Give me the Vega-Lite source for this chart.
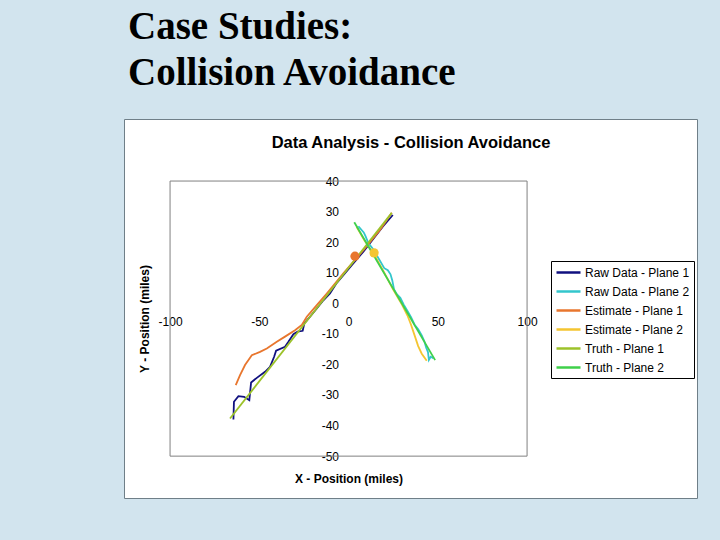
{
  "$schema": "https://vega.github.io/schema/vega-lite/v6.json",
  "width": 573,
  "height": 379,
  "autosize": {"type": "none"},
  "padding": {"left": 124, "top": 119, "right": 23, "bottom": 42},
  "background": "#d2e4ee",
  "title": {
    "text": ["Case Studies:", "Collision Avoidance"],
    "anchor": "start",
    "frame": "group",
    "font": "Liberation Serif",
    "fontSize": 39,
    "fontWeight": "bold",
    "color": "black",
    "lineHeight": 46,
    "dx": 4,
    "offset": 26
  },
  "config": {
    "view": {"fill": "white", "stroke": "#6f7f88", "strokeWidth": 1},
    "axis": {"labelFont": "Liberation Sans", "titleFont": "Liberation Sans", "labelColor": "black", "titleColor": "black", "grid": false, "domain": false, "ticks": false, "tickSize": 0},
    "legend": {"labelFont": "Liberation Sans", "labelFontSize": 12, "labelColor": "black"}
  },
  "datasets": {
    "tracks": [
      {"series": "Raw Data - Plane 1", "x": -64.5, "y": -38.0},
      {"series": "Raw Data - Plane 1", "x": -64.2, "y": -32.2},
      {"series": "Raw Data - Plane 1", "x": -61.7, "y": -30.4},
      {"series": "Raw Data - Plane 1", "x": -58.5, "y": -30.6},
      {"series": "Raw Data - Plane 1", "x": -55.6, "y": -31.7},
      {"series": "Raw Data - Plane 1", "x": -54.6, "y": -25.9},
      {"series": "Raw Data - Plane 1", "x": -51.4, "y": -24.4},
      {"series": "Raw Data - Plane 1", "x": -46.8, "y": -22.4},
      {"series": "Raw Data - Plane 1", "x": -44.0, "y": -20.8},
      {"series": "Raw Data - Plane 1", "x": -41.7, "y": -17.5},
      {"series": "Raw Data - Plane 1", "x": -40.6, "y": -15.5},
      {"series": "Raw Data - Plane 1", "x": -35.6, "y": -14.2},
      {"series": "Raw Data - Plane 1", "x": -33.7, "y": -12.6},
      {"series": "Raw Data - Plane 1", "x": -30.9, "y": -10.1},
      {"series": "Raw Data - Plane 1", "x": -28.5, "y": -9.3},
      {"series": "Raw Data - Plane 1", "x": -25.7, "y": -9.0},
      {"series": "Raw Data - Plane 1", "x": -24.8, "y": -6.6},
      {"series": "Raw Data - Plane 1", "x": -21.6, "y": -4.4},
      {"series": "Raw Data - Plane 1", "x": -17.8, "y": -1.7},
      {"series": "Raw Data - Plane 1", "x": -14.1, "y": 1.0},
      {"series": "Raw Data - Plane 1", "x": -10.4, "y": 3.2},
      {"series": "Raw Data - Plane 1", "x": -6.6, "y": 6.7},
      {"series": "Raw Data - Plane 1", "x": -2.9, "y": 9.2},
      {"series": "Raw Data - Plane 1", "x": 1.8, "y": 12.5},
      {"series": "Raw Data - Plane 1", "x": 8.3, "y": 16.9},
      {"series": "Raw Data - Plane 1", "x": 14.8, "y": 21.8},
      {"series": "Raw Data - Plane 1", "x": 19.5, "y": 25.3},
      {"series": "Raw Data - Plane 1", "x": 24.8, "y": 28.9},
      {"series": "Raw Data - Plane 2", "x": 5.5, "y": 25.2},
      {"series": "Raw Data - Plane 2", "x": 8.5, "y": 23.2},
      {"series": "Raw Data - Plane 2", "x": 9.5, "y": 22.0},
      {"series": "Raw Data - Plane 2", "x": 11.0, "y": 19.8},
      {"series": "Raw Data - Plane 2", "x": 14.0, "y": 17.5},
      {"series": "Raw Data - Plane 2", "x": 17.0, "y": 14.5},
      {"series": "Raw Data - Plane 2", "x": 20.0, "y": 11.5},
      {"series": "Raw Data - Plane 2", "x": 22.0, "y": 10.8},
      {"series": "Raw Data - Plane 2", "x": 23.5, "y": 9.5},
      {"series": "Raw Data - Plane 2", "x": 24.5, "y": 7.5},
      {"series": "Raw Data - Plane 2", "x": 25.5, "y": 4.5},
      {"series": "Raw Data - Plane 2", "x": 27.0, "y": 3.0},
      {"series": "Raw Data - Plane 2", "x": 29.0, "y": 1.8},
      {"series": "Raw Data - Plane 2", "x": 31.0, "y": -0.5},
      {"series": "Raw Data - Plane 2", "x": 33.0, "y": -2.5},
      {"series": "Raw Data - Plane 2", "x": 35.0, "y": -4.5},
      {"series": "Raw Data - Plane 2", "x": 37.0, "y": -7.0},
      {"series": "Raw Data - Plane 2", "x": 39.0, "y": -8.5},
      {"series": "Raw Data - Plane 2", "x": 41.0, "y": -10.5},
      {"series": "Raw Data - Plane 2", "x": 42.5, "y": -12.5},
      {"series": "Raw Data - Plane 2", "x": 43.5, "y": -14.5},
      {"series": "Raw Data - Plane 2", "x": 44.5, "y": -16.0},
      {"series": "Raw Data - Plane 2", "x": 45.0, "y": -18.5},
      {"series": "Raw Data - Plane 2", "x": 46.0, "y": -17.5},
      {"series": "Raw Data - Plane 2", "x": 47.5, "y": -18.0},
      {"series": "Estimate - Plane 1", "x": -63.2, "y": -26.8},
      {"series": "Estimate - Plane 1", "x": -60.8, "y": -23.5},
      {"series": "Estimate - Plane 1", "x": -58.0, "y": -20.2},
      {"series": "Estimate - Plane 1", "x": -54.2, "y": -17.0},
      {"series": "Estimate - Plane 1", "x": -49.6, "y": -15.9},
      {"series": "Estimate - Plane 1", "x": -45.8, "y": -14.8},
      {"series": "Estimate - Plane 1", "x": -40.2, "y": -12.6},
      {"series": "Estimate - Plane 1", "x": -35.6, "y": -10.9},
      {"series": "Estimate - Plane 1", "x": -30.0, "y": -8.8},
      {"series": "Estimate - Plane 1", "x": -26.2, "y": -7.1},
      {"series": "Estimate - Plane 1", "x": -23.4, "y": -4.4},
      {"series": "Estimate - Plane 1", "x": -17.8, "y": -0.6},
      {"series": "Estimate - Plane 1", "x": -12.2, "y": 3.2},
      {"series": "Estimate - Plane 1", "x": -2.9, "y": 9.8},
      {"series": "Estimate - Plane 1", "x": 8.3, "y": 17.4},
      {"series": "Estimate - Plane 1", "x": 17.6, "y": 24.0},
      {"series": "Estimate - Plane 1", "x": 24.2, "y": 29.6},
      {"series": "Estimate - Plane 2", "x": 4.5, "y": 25.0},
      {"series": "Estimate - Plane 2", "x": 9.0, "y": 20.5},
      {"series": "Estimate - Plane 2", "x": 14.3, "y": 16.0},
      {"series": "Estimate - Plane 2", "x": 20.0, "y": 10.0},
      {"series": "Estimate - Plane 2", "x": 25.0, "y": 4.5},
      {"series": "Estimate - Plane 2", "x": 30.0, "y": -0.5},
      {"series": "Estimate - Plane 2", "x": 33.0, "y": -4.0},
      {"series": "Estimate - Plane 2", "x": 35.0, "y": -7.0},
      {"series": "Estimate - Plane 2", "x": 37.0, "y": -10.5},
      {"series": "Estimate - Plane 2", "x": 39.0, "y": -14.0},
      {"series": "Estimate - Plane 2", "x": 41.0, "y": -16.5},
      {"series": "Estimate - Plane 2", "x": 43.8, "y": -18.8},
      {"series": "Truth - Plane 1", "x": -66.4, "y": -37.7},
      {"series": "Truth - Plane 1", "x": 24.2, "y": 29.6},
      {"series": "Truth - Plane 2", "x": 3.2, "y": 26.5},
      {"series": "Truth - Plane 2", "x": 48.5, "y": -18.6}
    ],
    "markers": [
      {"series": "Estimate - Plane 1", "x": 3.6, "y": 15.4},
      {"series": "Estimate - Plane 2", "x": 14.3, "y": 16.5}
    ]
  },
  "layer": [
    {
      "data": {"values": [{"frame": "plot area"}]},
      "mark": {"type": "rect", "fill": null, "fillOpacity": 0, "stroke": "#808080", "strokeWidth": 1},
      "encoding": {
        "x": {"datum": -100, "type": "quantitative",
          "scale": {"domain": [-125.8, 195.2], "nice": false, "zero": false},
          "axis": {"orient": "top", "labels": false, "title": "Data Analysis - Collision Avoidance",
            "titleFontSize": 16.5, "titleFontWeight": "bold", "titleX": 286.5, "titleY": 23, "titleBaseline": "middle", "titleAlign": "center"}},
        "x2": {"datum": 100},
        "y": {"datum": -50, "type": "quantitative",
          "scale": {"domain": [-63.7, 60.3], "nice": false, "zero": false},
          "axis": null},
        "y2": {"datum": 40}
      }
    },
    {
      "data": {"name": "tracks"},
      "mark": {"type": "line", "strokeWidth": 1.8},
      "encoding": {
        "x": {"field": "x", "type": "quantitative",
          "scale": {"domain": [-125.8, 195.2], "nice": false, "zero": false},
          "axis": {"orient": "bottom", "offset": -195, "values": [-100, -50, 0, 50, 100], "labelFontSize": 12,
            "labelExpr": "'' + datum.value",
            "labelPadding": 13, "labelOverlap": false, "labelFlush": false,
            "title": "X - Position (miles)", "titleFontSize": 12, "titleFontWeight": "bold",
            "titleX": 224.5, "titleY": 175, "titleBaseline": "middle", "titleAlign": "center"}},
        "y": {"field": "y", "type": "quantitative",
          "scale": {"domain": [-63.7, 60.3], "nice": false, "zero": false},
          "axis": {"orient": "left", "offset": -224.5, "values": [-50, -40, -30, -20, -10, 0, 10, 20, 30, 40], "labelFontSize": 12,
            "labelExpr": "'' + datum.value",
            "labelPadding": 10, "labelOverlap": false, "labelFlush": false,
            "title": "Y - Position (miles)", "titleFontSize": 12, "titleFontWeight": "bold",
            "titleX": -204.5, "titleY": 199.5, "titleBaseline": "middle", "titleAlign": "center", "titleAngle": -90}},
        "color": {"field": "series", "type": "nominal",
          "scale": {
            "domain": ["Raw Data - Plane 1", "Raw Data - Plane 2", "Estimate - Plane 1", "Estimate - Plane 2", "Truth - Plane 1", "Truth - Plane 2"],
            "range": ["#10107f", "#33c6cc", "#e8762e", "#f4c531", "#9cc22a", "#3fd04a"]},
          "legend": {"orient": "none", "legendX": 427, "legendY": 142, "title": null,
            "symbolType": "M-1,0H3", "symbolSize": 144, "symbolStrokeWidth": 2.5,
            "strokeColor": "black", "fillColor": "white", "padding": 4, "rowPadding": 5, "labelOffset": 15}},
        "order": {"value": null}
      }
    },
    {
      "data": {"name": "markers"},
      "mark": {"type": "circle", "size": 85, "opacity": 1},
      "encoding": {
        "x": {"field": "x", "type": "quantitative", "axis": null},
        "y": {"field": "y", "type": "quantitative", "axis": null},
        "color": {"field": "series", "type": "nominal", "legend": null}
      }
    }
  ],
  "resolve": {"axis": {"x": "independent", "y": "independent"}}
}
